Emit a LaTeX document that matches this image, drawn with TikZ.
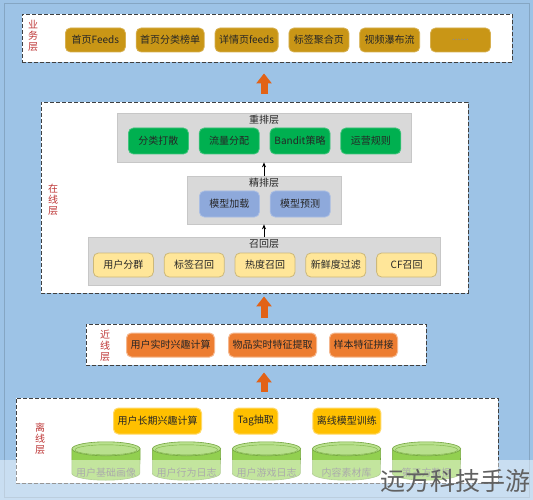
\documentclass[tikz,border=0pt]{standalone}
\usepackage{fontspec}
\setmainfont{Noto Sans CJK SC}
\usetikzlibrary{arrows.meta,positioning}
\definecolor{bgblue}{RGB}{157,195,230}
\definecolor{laytxt}{RGB}{190,55,55}
\definecolor{gold}{RGB}{201,150,22}
\definecolor{rgreen}{RGB}{0,176,80}
\definecolor{fblue}{RGB}{142,169,219}
\definecolor{ryellow}{RGB}{255,230,153}
\definecolor{norange}{RGB}{237,125,49}
\definecolor{oyellow}{RGB}{255,192,0}
\definecolor{dbgreen}{RGB}{146,208,80}
\definecolor{arrorange}{RGB}{226,98,22}
\definecolor{subgray}{RGB}{217,217,217}
\tikzset{
    frame/.style={draw=bgblue!85!black, line width=0.5pt},
    layer/.style={draw=black!75, fill=white, line width=0.9pt, dash pattern=on 4pt off 2pt},
    laylabel/.style={text=laytxt, align=center, font=\fontsize{10}{11}\selectfont},
    sublayer/.style={draw=black!22, fill=subgray, line width=0.7pt},
    subtitle/.style={inner sep=1pt, font=\fontsize{10}{12}\selectfont, text=black!85},
    btn/.style={rounded corners=5pt, inner xsep=4pt, inner ysep=0pt, line width=0.8pt,
                font=\fontsize{10}{12}\selectfont, text=black!85},
    bizbtn/.style={btn, fill=gold, draw=gold!75!white, minimum width=60pt, minimum height=24pt},
    rrbtn/.style={btn, fill=rgreen, draw=rgreen!75!white, minimum width=60pt, minimum height=26pt},
    finebtn/.style={btn, fill=fblue, draw=fblue!75!white, minimum width=60pt, minimum height=26pt},
    recbtn/.style={btn, fill=ryellow, draw=ryellow!80!black, minimum width=60pt, minimum height=24pt},
    nearbtn/.style={btn, fill=norange, draw=norange!55!white, line width=1pt, minimum height=24pt},
    offbtn/.style={btn, fill=oyellow, draw=oyellow!60!white, line width=1pt, minimum height=26pt},
    dbbox/.style={minimum width=68pt, minimum height=38pt, inner sep=0pt},
    dbbody/.style={fill=dbgreen, draw=dbgreen!80!black, line width=0.6pt},
    dbtop/.style={fill=dbgreen!65!white, draw=dbgreen!80!black, line width=0.6pt},
    dbtext/.style={inner sep=1pt, font=\fontsize{10}{12}\selectfont, text=black!60},
    thinarrow/.style={-{Stealth[length=5pt,width=4pt]}, line width=0.8pt, black},
    bigarrow/.style={-{Triangle[width=15pt,length=10pt]}, line width=7pt, arrorange},
    wmark/.style={text=black!62, font=\fontsize{25}{28}\selectfont, inner sep=0pt},
  }
\begin{document}
\begin{tikzpicture}[x=1pt,y=-1pt]
    % fond
    \fill[bgblue] (0,0) rectangle (533,500);
    \useasboundingbox (0,0) rectangle (533,500);
    \draw[frame] (4,3) rectangle (529,497);

    % couches
    \node[layer, minimum width=490pt, minimum height=48pt] (biz) at (267,38) {};
    \node[layer, minimum width=427pt, minimum height=191pt] (online) at (254.5,197.5) {};
    \node[layer, minimum width=340pt, minimum height=41pt] (near) at (256,344.5) {};
    \node[layer, minimum width=482pt, minimum height=85pt] (offline) at (257,440.5) {};

    \node[laylabel] (bizl) at (33,36) {业\\务\\层};
    \node[laylabel] (onlinel) at (53,200) {在\\线\\层};
    \node[laylabel] (nearl) at (105,346) {近\\线\\层};
    \node[laylabel] (offlinel) at (40,439) {离\\线\\层};

    %业务层
    \node[bizbtn, anchor=west] (b1) at (65,40) {首页Feeds};
    \node[bizbtn, right=10pt of b1] (b2) {首页分类榜单};
    \node[bizbtn, right=10pt of b2] (b3) {详情页feeds};
    \node[bizbtn, right=10pt of b3] (b4) {标签聚合页};
    \node[bizbtn, right=10pt of b4] (b5) {视频瀑布流};
    \node[bizbtn, right=10pt of b5, text=black!45] (b6) {......};

    % 在线层
    \node[sublayer, minimum width=294pt, minimum height=49pt] (rerank) at (264,137.5) {};
    \node[sublayer, minimum width=154pt, minimum height=48pt] (fine) at (264,200) {};
    \node[sublayer, minimum width=352pt, minimum height=48pt] (recall) at (264,261) {};
    \node[subtitle, below=1.5pt of rerank.north] (reranht) {重排层};
    \node[subtitle, below=1.5pt of fine.north] (finet) {精排层};
    \node[subtitle, below=1.5pt of recall.north] (recallt) {召回层};

    \node[rrbtn, anchor=west] (r1) at (128,141) {分类打散};
    \node[rrbtn, right=10pt of r1] (r2) {流量分配};
    \node[rrbtn, right=10pt of r2] (r3) {Bandit策略};
    \node[rrbtn, right=10pt of r3] (r4) {运营规则};

    \node[finebtn, anchor=west] (f1) at (199,204) {模型加载};
    \node[finebtn, right=10pt of f1] (f2) {模型预测};

    \node[recbtn, anchor=west] (c1) at (93,265) {用户分群};
    \node[recbtn, right=10pt of c1] (c2) {标签召回};
    \node[recbtn, right=10pt of c2] (c3) {热度召回};
    \node[recbtn, right=10pt of c3] (c4) {新鲜度过滤};
    \node[recbtn, right=10pt of c4] (c5) {CF召回};

    \draw[thinarrow] (fine.north) -- (rerank.south);
    \draw[thinarrow] (recall.north) -- (fine.south);

    % 近线层
    \node[nearbtn, anchor=west] (n1) at (126,345) {用户实时兴趣计算};
    \node[nearbtn, right=13pt of n1] (n2) {物品实时特征提取};
    \node[nearbtn, right=12pt of n2] (n3) {样本特征拼接};

    % 离线层
    \node[offbtn, anchor=west] (o1) at (113,421) {用户长期兴趣计算};
    \node[offbtn, right=31pt of o1] (o2) {Tag抽取};
    \node[offbtn, right=34pt of o2] (o3) {离线模型训练};

    \node[dbbox] (d1) at (106,461) {};
    \node[dbbox] (d2) at (186.5,461) {};
    \node[dbbox] (d3) at (266.5,461) {};
    \node[dbbox] (d4) at (346.5,461) {};
    \node[dbbox] (d5) at (426.5,461) {};
    \foreach \d in {d1,d2,d3,d4,d5}{
      \draw[dbbody] ([yshift=-7pt]\d.north west) -- ([yshift=7pt]\d.south west)
          arc[start angle=180, end angle=360, x radius=34pt, y radius=7pt]
          -- ([yshift=-7pt]\d.north east) -- cycle;
      \draw[dbtop] ([yshift=-7pt]\d.north) ellipse[x radius=34pt, y radius=7pt];
      \draw[dbgreen!85!black, line width=0.4pt] ([yshift=-8pt]\d.north) ellipse[x radius=31pt, y radius=5pt];
    }
    \node[dbtext, above=2pt of d1.south] (t1) {用户基础画像};
    \node[dbtext, above=2pt of d2.south] (t2) {用户行为日志};
    \node[dbtext, above=2pt of d3.south] (t3) {用户游戏日志};
    \node[dbtext, above=2pt of d4.south] (t4) {内容素材库};
    \node[dbtext, above=2pt of d5.south] (t5) {第三方数据};

    % fleches entre couches
    \draw[bigarrow, shorten <=8pt, shorten >=11pt] (online.north -| rerank.center) -- (biz.south -| rerank.center);
    \draw[bigarrow, shorten <=6pt, shorten >=3pt] (near.north -| rerank.center) -- (online.south -| rerank.center);
    \draw[bigarrow, shorten <=6pt, shorten >=7pt] (offline.north -| rerank.center) -- (near.south -| rerank.center);

    % filigrane
    \fill[white, opacity=0.45] (0,460) rectangle (533,500);
    \node[wmark, anchor=east] (wm) at (531,481) {远方科技手游};
\end{tikzpicture}
\end{document}
